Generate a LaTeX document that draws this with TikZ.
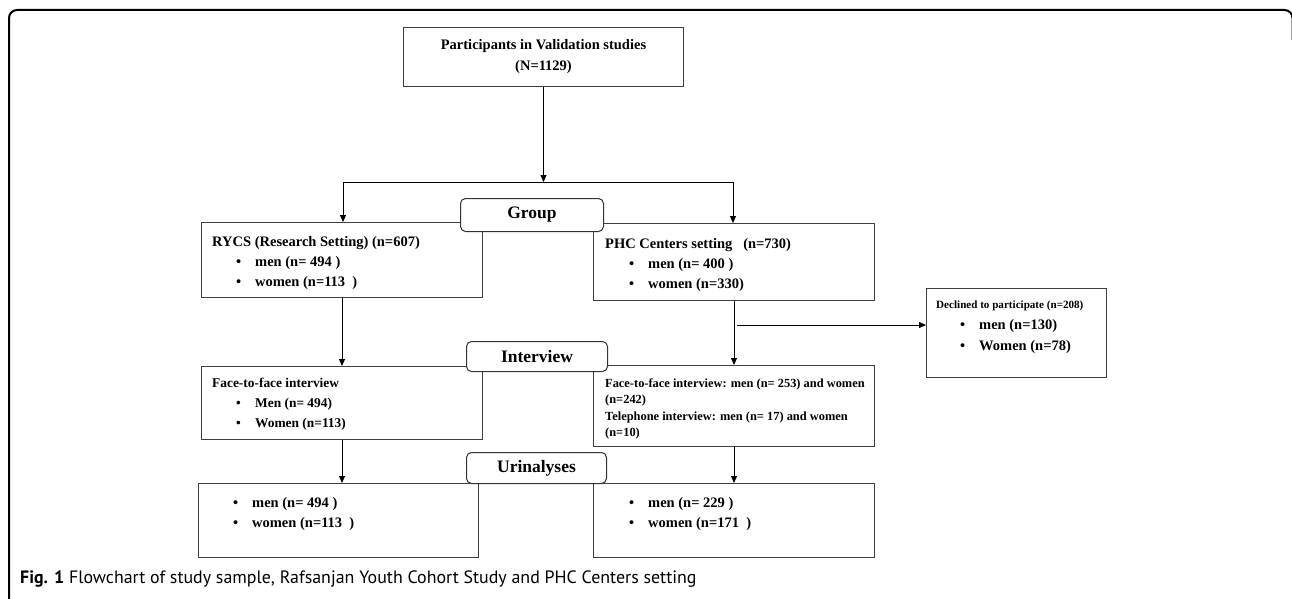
\documentclass[tikz,border=0pt]{standalone}
\usepackage{fontspec}
\setmainfont{Liberation Serif}
\newfontfamily\capfont{PT Sans}
\usetikzlibrary{arrows.meta}

\tikzset{
  box/.style={draw=black!75, line width=1pt, fill=white, anchor=north west, inner sep=0pt},
  tag/.style={draw=black!80, line width=1pt, fill=white, rounded corners=5pt, anchor=north west, inner sep=0pt,
    font=\bfseries\fontsize{17.5}{20}\selectfont},
  txt/.style={anchor=base west, inner sep=0pt},
  arr/.style={-{Triangle[length=7pt,width=6pt]}, line width=1pt},
}
% bullet line inside a box
\newcommand{\itm}[1]{\par\hspace*{24pt}\makebox[19pt][l]{\textbullet}#1}
\newcommand{\boxtext}[3]{\parbox[t]{#1}{\bfseries\fontsize{#2}{20}\selectfont #3}}

\begin{document}
\begin{tikzpicture}[x=1pt,y=-1pt]
  \useasboundingbox (0,0) rectangle (1292,599);
  \draw[line width=2pt, rounded corners=8pt] (9,605) -- (9,10) -- (1292.5,10) -- (1292.5,40);

  % boxes
  \node[box, minimum width=280, minimum height=59, align=center,
        font=\bfseries\fontsize{14.5}{21}\selectfont] (top) at (403,27)
        {Participants in Validation studies\\(N=1129)};
  \node[box, minimum width=281, minimum height=75] (rycs) at (201,222) {};
  \node[box, minimum width=281, minimum height=77] (phc) at (593,223) {};
  \node[box, minimum width=180, minimum height=89] (decl) at (926,288) {};
  \node[box, minimum width=281, minimum height=73] (ftfL) at (201,366) {};
  \node[box, minimum width=281, minimum height=81] (ftfR) at (593,365) {};
  \node[box, minimum width=280, minimum height=74] (uriL) at (198,483) {};
  \node[box, minimum width=281, minimum height=74] (uriR) at (593,483) {};

  % texts
  \node[txt] (rycsT) at (212,246) {\boxtext{265pt}{14.5}{RYCS (Research Setting) (n=607)
      \itm{men (n= 494 )}\itm{women (n=113\ \ )}}};
  \node[txt] (phcT) at (605,248) {\boxtext{265pt}{14.5}{PHC Centers setting\ \ \ (n=730)
      \itm{men (n= 400 )}\itm{women (n=330)}}};
  \node[txt] (declT) at (936,308) {\parbox[t]{165pt}{\bfseries
      {\fontsize{11.1}{20}\selectfont Declined to participate (n=208)}\fontsize{14.5}{21}\selectfont
      \itm{men (n=130)}\itm{Women (n=78)}}};
  \node[txt] (ftfLT) at (212,387) {\boxtext{265pt}{13.4}{Face-to-face interview
      \itm{Men (n= 494)}\itm{Women (n=113)}}};
  \node[txt] (ftfRT) at (605,387) {\parbox[t]{265pt}{\bfseries\fontsize{12.4}{16.5}\selectfont
      Face-to-face interview: men (n= 253) and women\\(n=242)\\
      Telephone interview: men (n= 17) and women\\(n=10)}};
  \node[txt] (uriLT) at (209,507) {\boxtext{265pt}{14.5}{%
      \hspace*{24pt}\makebox[19pt][l]{\textbullet}men (n= 494 )\itm{women (n=113\ \ )}}};
  \node[txt] (uriRT) at (605,507) {\boxtext{265pt}{14.5}{%
      \hspace*{24pt}\makebox[19pt][l]{\textbullet}men (n= 229 )\itm{women (n=171\ \ )}}};

  % connectors
  \coordinate (brL) at (343,182);
  \coordinate (brR) at (733,182);
  \draw[arr] (top.south) -- (top.south |- brL);
  \draw[line width=1pt] (brL) -- (brR);
  \draw[arr] (brL) -- (brL |- rycs.north);
  \draw[arr] (brR) -- (brR |- phc.north);
  \draw[arr] (rycs.south) -- (rycs.south |- ftfL.north);
  \draw[arr] (phc.south) -- (phc.south |- ftfR.north);
  \coordinate (dj) at (737,325);
  \draw[arr] (dj) -- (dj -| decl.west);
  \draw[arr] (ftfL.south) -- (ftfL.south |- uriL.north);
  \draw[arr] (ftfR.south) -- (ftfR.south |- uriR.north);

  % stage labels
  \node[tag, minimum width=143, minimum height=33] (group) at (460,198) {Group};
  \node[tag, minimum width=141, minimum height=30] (interview) at (466,341) {Interview};
  \node[tag, minimum width=140, minimum height=31] (urine) at (466,452) {Urinalyses};

  % caption
  \node[txt] (caption) at (20,583) {\capfont\fontsize{17.9}{20}\selectfont
      \textbf{Fig. 1} Flowchart of study sample, Rafsanjan Youth Cohort Study and PHC Centers setting};
\end{tikzpicture}
\end{document}
